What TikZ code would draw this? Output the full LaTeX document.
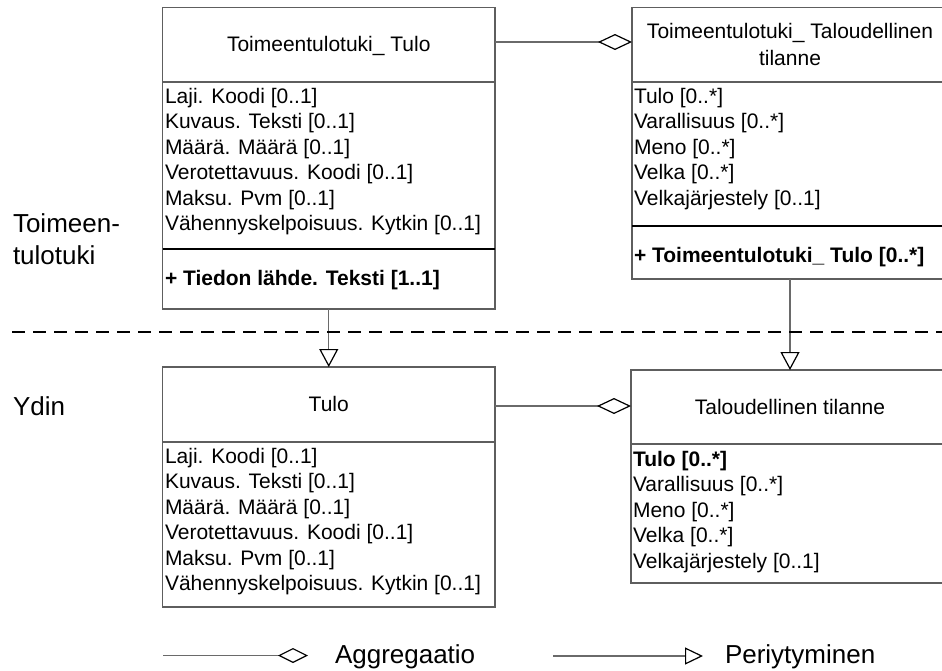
\documentclass[tikz,border=0pt]{standalone}
\usepackage{fontspec}
\setmainfont{Liberation Sans}
\usetikzlibrary{arrows.meta}

\definecolor{boxgray}{HTML}{5E5E5E}
\definecolor{linegray}{HTML}{6A6A6A}

\newcommand{\boxfont}{\fontsize{21}{25.5}\selectfont}
\newcommand{\bigfont}{\fontsize{26}{32}\selectfont}
% stacked lines whose baseline is that of the first line
\newcommand{\linesL}[1]{\begin{tabular}[t]{@{}l@{}}#1\end{tabular}}
\newcommand{\linesC}[1]{\begin{tabular}[t]{@{}c@{}}#1\end{tabular}}

\tikzset{
  classbox/.style={rectangle, draw=boxgray, line width=1.3pt, inner sep=0pt, outer sep=0pt},
  hdrline/.style={draw=boxgray, line width=1.3pt},
  opline/.style={draw=black, line width=2pt},
  conn/.style={draw=linegray, line width=1.3pt},
  agg/.style={conn, -{Diamond[open, length=34pt, width=16pt, color=black, line width=1.2pt]}},
  inh/.style={conn, -{Triangle[open, length=18pt, width=19pt, color=black, line width=1.2pt]}},
  legagg/.style={conn, -{Diamond[open, length=30pt, width=15pt, color=black, line width=1.2pt]}},
  leginh/.style={conn, -{Triangle[open, length=18pt, width=17pt, color=black, line width=1.2pt]}},
  txt/.style={inner sep=0pt, outer sep=0pt, font=\boxfont},
  attrs/.style={txt, anchor=base west},
  title/.style={txt, anchor=base},
  biglabel/.style={inner sep=0pt, outer sep=0pt, font=\bigfont, anchor=base west},
  layersep/.style={draw=black, line width=2pt, dash pattern=on 13pt off 8pt},
}

\begin{document}
\begin{tikzpicture}[x=1pt, y=-1pt]
\useasboundingbox (0,0) rectangle (942,670);

% class boxes
\node[classbox, minimum width=332.5pt, minimum height=301.5pt] (tl) at (328.75,158.25) {};
\node[classbox, minimum width=316pt, minimum height=271.5pt] (tr) at (790,143.25) {};
\node[classbox, minimum width=332.5pt, minimum height=240pt] (bl) at (328.75,487) {};
\node[classbox, minimum width=318pt, minimum height=213pt] (br) at (790,476.5) {};

% compartment lines
\draw[hdrline] (tl.west |- 0,82) -- (tl.east |- 0,82);
\draw[opline] (tl.west |- 0,249) -- (tl.east |- 0,249);
\draw[hdrline] (tr.west |- 0,82) -- (tr.east |- 0,82);
\draw[opline] (tr.west |- 0,226) -- (tr.east |- 0,226);
\draw[hdrline] (bl.west |- 0,442) -- (bl.east |- 0,442);
\draw[hdrline] (br.west |- 0,444) -- (br.east |- 0,444);

% Toimeentulotuki_ Tulo
\node[title] (tlT) at (328.75,51) {Toimeentulotuki\_ Tulo};
\node[attrs] (tlA) at (165,103) {\linesL{Laji. Koodi [0..1]\\Kuvaus. Teksti [0..1]\\Määrä. Määrä [0..1]\\Verotettavuus. Koodi [0..1]\\Maksu. Pvm [0..1]\\Vähennyskelpoisuus. Kytkin [0..1]}};
\node[attrs, font=\boxfont\bfseries] (tlO) at (165,285) {+ Tiedon lähde. Teksti [1..1]};

% Toimeentulotuki_ Taloudellinen tilanne
\node[title, font=\fontsize{21}{27}\selectfont] (trT) at (790,38) {\linesC{Toimeentulotuki\_ Taloudellinen\\tilanne}};
\node[attrs] (trA) at (634,103) {\linesL{Tulo [0..*]\\Varallisuus [0..*]\\Meno [0..*]\\Velka [0..*]\\Velkajärjestely [0..1]}};
\node[attrs, font=\boxfont\bfseries] (trO) at (634,262) {+ Toimeentulotuki\_ Tulo [0..*]};

% Tulo
\node[title] (blT) at (328.75,411) {Tulo};
\node[attrs] (blA) at (165,463) {\linesL{Laji. Koodi [0..1]\\Kuvaus. Teksti [0..1]\\Määrä. Määrä [0..1]\\Verotettavuus. Koodi [0..1]\\Maksu. Pvm [0..1]\\Vähennyskelpoisuus. Kytkin [0..1]}};

% Taloudellinen tilanne
\node[title] (brT) at (790,414) {Taloudellinen tilanne};
\node[attrs] (brA) at (633,466) {\linesL{\textbf{Tulo [0..*]}\\Varallisuus [0..*]\\Meno [0..*]\\Velka [0..*]\\Velkajärjestely [0..1]}};

% associations
\draw[agg] (tl.east |- 0,42) -- (tr.west |- 0,42);
\draw[agg] (bl.east |- 0,406) -- (br.west |- 0,406);
\draw[inh] (tl.south) -- (bl.north);
\draw[inh] (tr.south) -- (br.north);

% layer separator and layer names
\coordinate (sepL) at (12,332);
\coordinate (sepR) at (942,332);
\draw[layersep] (sepL) -- (sepR);
\node[biglabel] (layTop) at (13,232) {\linesL{Toimeen-\\tulotuki}};
\node[biglabel] (layCore) at (13,415) {Ydin};

% legend
\coordinate (la1) at (163,655.5);
\coordinate (la2) at (308,655.5);
\coordinate (lb1) at (553,656);
\coordinate (lb2) at (703,656);
\draw[legagg] (la1) -- (la2);
\draw[leginh] (lb1) -- (lb2);
\node[biglabel] (legA) at (335,663) {Aggregaatio};
\node[biglabel] (legB) at (725,663) {Periytyminen};
\end{tikzpicture}
\end{document}
